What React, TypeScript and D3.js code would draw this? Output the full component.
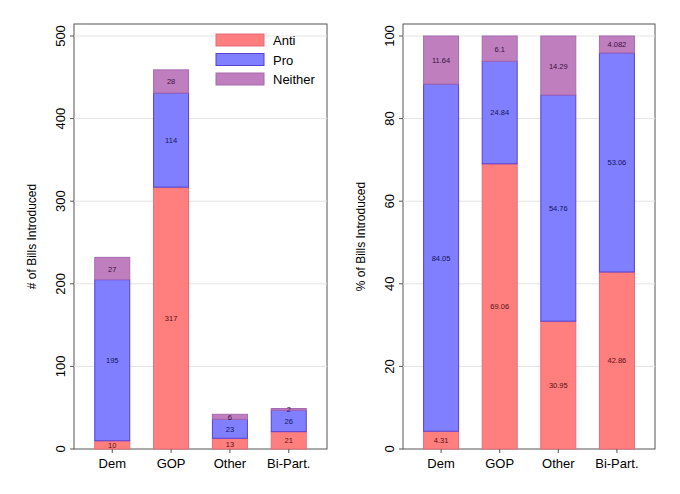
import { scaleBand, scaleLinear } from "d3";

const parties = ["Dem", "GOP", "Other", "Bi-Part."];
const seriesNames = ["Anti", "Pro", "Neither"];
const countAnti = [10, 317, 13, 21];
const countPro = [195, 114, 23, 26];
const countNeither = [27, 28, 6, 2];
const pctAnti = [4.31, 69.06, 30.95, 42.86];
const pctPro = [84.05, 24.84, 54.76, 53.06];
const pctNeither = [11.64, 6.1, 14.29, 4.082];
const countTicks = [0, 100, 200, 300, 400, 500];
const pctTicks = [0, 20, 40, 60, 80, 100];

const fills = ["#ff7f7f", "#7f7fff", "#bf7fbf"];
const strokes = ["#e86a7a", "#5a3fd8", "#a868b0"];
const textCol = ["#5a1010", "#14145a", "#3a1040"];

function Panel({ left, right, top, bottom, max, ticks, series, title, legend }: any) {
  const x = scaleBand().domain(parties).range([left, right]).paddingInner(0.4).paddingOuter(0.35);
  const y = scaleLinear().domain([0, max]).range([bottom, bottom - (bottom - top - 12) * 1]);
  const bw = 35;
  return (
    <g fontFamily="Helvetica, Arial, 'Liberation Sans', sans-serif">
      <rect x={left} y={top} width={right - left} height={bottom - top} fill="white" stroke="#555" strokeWidth={1} />
      {ticks.map((t: number) => (
        <g key={t}>
          {t > 0 && <line x1={left} x2={right} y1={y(t)} y2={y(t)} stroke="#e4e4e4" />}
          <line x1={left - 4} x2={left} y1={y(t)} y2={y(t)} stroke="#555" />
          <text transform={`translate(${left - 9},${y(t)}) rotate(-90)`} textAnchor="middle" fontSize={13}>{t}</text>
        </g>
      ))}
      <text transform={`translate(${left - 38},${(top + bottom) / 2}) rotate(-90)`} textAnchor="middle" fontSize={12}>{title}</text>
      {parties.map((p, i) => {
        let acc = 0;
        const cx = x(p)! + x.bandwidth() / 2;
        return (
          <g key={p}>
            {series.map((s: number[], k: number) => {
              const y0 = acc, y1 = acc + s[i];
              acc = y1;
              return (
                <g key={k}>
                  <rect x={cx - bw / 2} y={y(y1)} width={bw} height={y(y0) - y(y1)} fill={fills[k]} stroke={strokes[k]} strokeWidth={1} />
                  <text x={cx} y={(y(y0) + y(y1)) / 2 + 3} textAnchor="middle" fontSize={7.5} fill={textCol[k]}>{s[i]}</text>
                </g>
              );
            })}
            <line x1={cx} x2={cx} y1={bottom} y2={bottom + 4} stroke="#555" />
            <text x={cx} y={bottom + 19} textAnchor="middle" fontSize={13}>{p}</text>
          </g>
        );
      })}
      {legend && seriesNames.map((n, k) => (
        <g key={n}>
          <rect x={216} y={34 + k * 19.5} width={48} height={12} fill={fills[k]} stroke={strokes[k]} />
          <text x={273} y={45 + k * 19.5} fontSize={13}>{n}</text>
        </g>
      ))}
    </g>
  );
}

export default function App() {
  return (
    <svg width={680} height={494} style={{ position: "absolute", left: 0, top: 0, background: "white" }}>
      <Panel left={74} right={327} top={24} bottom={449} max={500} ticks={countTicks}
        series={[countAnti, countPro, countNeither]} title="# of Bills Introduced" legend />
      <Panel left={403} right={655} top={24} bottom={449} max={100} ticks={pctTicks}
        series={[pctAnti, pctPro, pctNeither]} title="% of Bills Introduced" />
    </svg>
  );
}
